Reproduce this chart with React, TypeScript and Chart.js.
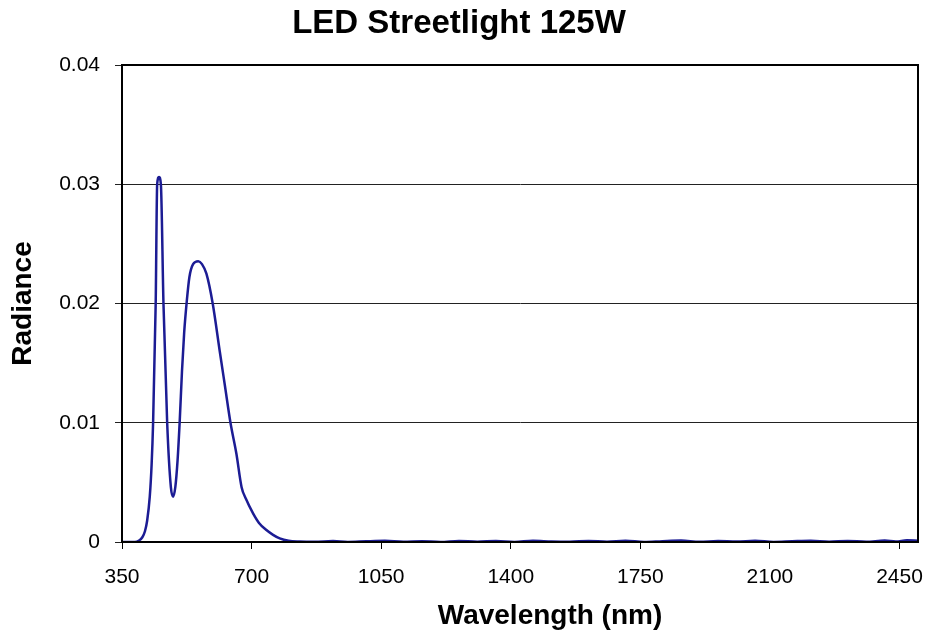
import React, { useEffect, useRef } from "react";
import { Chart, registerables } from "chart.js";

Chart.register(...registerables);

const chartTitle = "LED Streetlight 125W";
const xAxisTitle = "Wavelength (nm)";
const yAxisTitle = "Radiance";

const xTickValues = [350, 700, 1050, 1400, 1750, 2100, 2450];
const yTickValues = [0, 0.01, 0.02, 0.03, 0.04];

const wavelengths = [
  350, 385, 395, 405, 412, 418, 425, 430, 434, 441, 445, 450, 455, 462, 472, 482,
  488, 494, 500, 506, 512, 518, 525, 532, 542, 556, 566, 578, 595, 614, 628, 643, 659, 673, 685, 704,
  720, 740, 758, 776, 800, 830, 870, 920, 960, 1010, 1060, 1110, 1160, 1210, 1260, 1310, 1360, 1410,
  1460, 1510, 1560, 1610, 1660, 1710, 1760, 1810, 1860, 1910, 1960, 2010, 2060, 2110, 2160, 2210,
  2260, 2310, 2360, 2410, 2440, 2470, 2500,
];

const radiance = [
  0, 0, 0.0001, 0.0004, 0.0009, 0.0018, 0.0038, 0.0065, 0.01, 0.02, 0.03, 0.0306, 0.03,
  0.02, 0.01, 0.0046, 0.0038, 0.0046, 0.0068, 0.0102, 0.0143, 0.0176, 0.0202, 0.0222, 0.0233,
  0.02355, 0.0233, 0.0225, 0.02, 0.016, 0.0131, 0.01, 0.0074, 0.0046, 0.0036, 0.0024,
  0.0016, 0.001, 0.0006, 0.0003, 0.0001, 0.00004, 0.00002, 0.00008, 0.0, 0.00006, 0.0001, 0.00002,
  0.00007, 0.0, 0.00009, 0.00003, 0.00008, 0.00001, 0.0001, 0.00004, 0.00002, 0.00009, 0.00003,
  0.00011, 0.0, 0.00007, 0.00012, 0.00002, 0.00008, 0.00004, 0.0001, 0.00001, 0.00006, 0.0001,
  0.00003, 0.00009, 0.00002, 0.00012, 0.00005, 0.00014, 0.0001,
];

const FONT = "'Liberation Sans', Arial, sans-serif";

export default function App() {
  const canvasRef = useRef<HTMLCanvasElement | null>(null);

  useEffect(() => {
    document.body.style.margin = "0";
    const canvas = canvasRef.current;
    if (!canvas) return;

    const framePlugin = {
      id: "frameAndXTitle",
      afterDraw(chart: any) {
        const { ctx, chartArea } = chart;
        ctx.save();
        ctx.strokeStyle = "#000";
        ctx.lineWidth = 2;
        ctx.strokeRect(chartArea.left, chartArea.top, chartArea.right - chartArea.left, chartArea.bottom - chartArea.top);
        ctx.fillStyle = "#000";
        ctx.font = `bold 28px ${FONT}`;
        ctx.textAlign = "center";
        ctx.textBaseline = "middle";
        ctx.fillText(xAxisTitle, 550, 616);
        ctx.restore();
      },
    };

    const chart = new Chart(canvas, {
      type: "line",
      data: {
        datasets: [
          {
            label: "Radiance",
            data: wavelengths.map((w, i) => ({ x: w, y: radiance[i] })),
            borderColor: "#1c1c94",
            borderWidth: 2.5,
            pointRadius: 0,
            fill: false,
            cubicInterpolationMode: "monotone",
          },
        ],
      },
      options: {
        animation: false,
        responsive: false,
        maintainAspectRatio: false,
        layout: { padding: { top: 0, left: 0, right: 7, bottom: 0 } },
        plugins: {
          legend: { display: false },
          tooltip: { enabled: false },
          title: {
            display: true,
            text: chartTitle,
            color: "#000",
            font: { family: FONT, size: 33, weight: "bold" },
            padding: { top: 4, bottom: 21.4 },
          },
        },
        scales: {
          x: {
            type: "linear",
            min: 350,
            max: 2500,
            afterBuildTicks: (scale: any) => {
              scale.ticks = xTickValues.map((v) => ({ value: v }));
            },
            afterFit: (scale: any) => {
              scale.height = 635 - 542;
              scale.paddingLeft = 0;
              scale.paddingRight = 0;
            },
            grid: {
              drawOnChartArea: false,
              drawTicks: true,
              tickLength: 7,
              color: "#000",
              lineWidth: 1,
            },
            border: { display: true, color: "#000", width: 2 },
            ticks: {
              color: "#000",
              font: { family: FONT, size: 21 },
              padding: 16,
              maxRotation: 0,
              autoSkip: false,
              callback: (v: any) => String(v),
            },
          },
          y: {
            type: "linear",
            min: 0,
            max: 0.04,
            afterBuildTicks: (scale: any) => {
              scale.ticks = yTickValues.map((v) => ({ value: v }));
            },
            afterFit: (scale: any) => {
              scale.width = 122;
            },
            grid: {
              drawOnChartArea: true,
              drawTicks: true,
              tickLength: 7,
              color: "#222",
              lineWidth: 1,
            },
            border: { display: true, color: "#000", width: 2 },
            title: {
              display: true,
              text: yAxisTitle,
              color: "#000",
              font: { family: FONT, size: 28, weight: "bold" },
              padding: { top: 6, bottom: 0 },
            },
            ticks: {
              color: "#000",
              font: { family: FONT, size: 21 },
              padding: 15,
              callback: (v: any) => (v === 0 ? "0" : Number(v).toFixed(2)),
            },
          },
        },
      },
      plugins: [framePlugin],
    } as any);

    return () => chart.destroy();
  }, []);

  return (
    <div style={{ position: "absolute", left: 0, top: 0, width: 925, height: 635, background: "#fff" }}>
      <canvas ref={canvasRef} width={925} height={635} style={{ width: 925, height: 635 }} />
    </div>
  );
}
